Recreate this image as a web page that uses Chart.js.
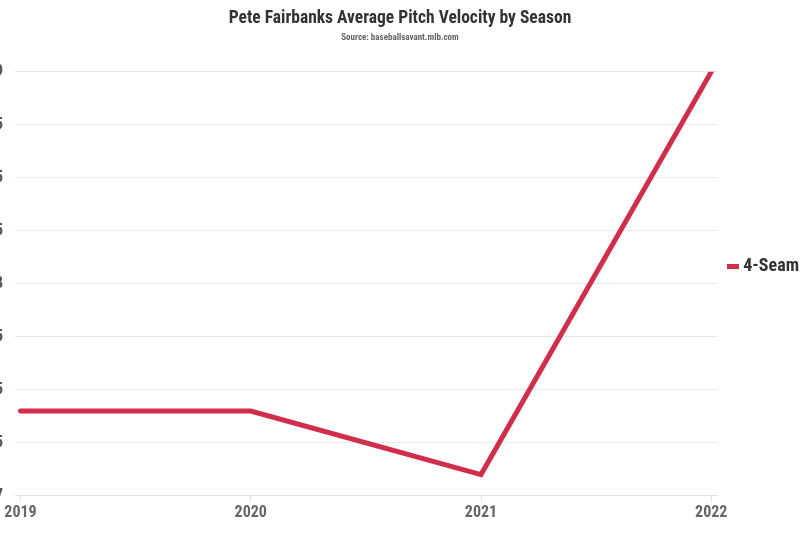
<!DOCTYPE html>
<html>
<head>
<meta charset="utf-8">
<script src="https://cdn.jsdelivr.net/npm/chart.js@4/dist/chart.umd.min.js"></script>
<style>
  html, body { margin: 0; padding: 0; background: #fff; overflow: hidden; }
  #wrap { position: absolute; left: -9px; top: 0; width: 818px; height: 533px; }
</style>
</head>
<body>
<div id="wrap"><canvas id="myChart"></canvas></div>
<script>
const seasons = [2019, 2020, 2021, 2022];
const fourSeam = [97.4, 97.4, 97.1, 99.0];
const yTicks = [97, 97.25, 97.5, 97.75, 98, 98.25, 98.5, 98.75, 99];

const font = "'Roboto Condensed', 'Liberation Sans Narrow', 'DejaVu Sans Condensed', Roboto, sans-serif";
const red = '#d12e4c';

// small flat marker for the legend
const marker = document.createElement('canvas');
marker.width = 12;
marker.height = 5;
const mctx = marker.getContext('2d');
mctx.fillStyle = red;
mctx.fillRect(0, 0, 12, 5);

const data = {
    datasets: [{
        label: '4-Seam',
        data: seasons.map((s, i) => ({ x: s, y: fourSeam[i] })),
        borderColor: red,
        backgroundColor: red,
        borderWidth: 5,
        borderCapStyle: 'round',
        pointRadius: 0,
        tension: 0,
    }]
};

const config = {
    type: 'line',
    data: data,
    options: {
        responsive: true,
        maintainAspectRatio: false,
        animation: false,
        layout: { padding: { top: 8, right: 0, bottom: 8 } },
        plugins: {
            legend: {
                position: 'right',
                labels: {
                    usePointStyle: true,
                    pointStyle: marker,
                    pointStyleWidth: 2,
                    boxHeight: 5,
                    color: '#333',
                    font: { family: font, size: 18, weight: 'bold' },
                    padding: 15
                }
            },
            title: {
                display: true,
                text: 'Pete Fairbanks Average Pitch Velocity by Season',
                color: '#333',
                font: { family: font, size: 17.5, weight: 'bold' },
                padding: { top: 0, bottom: 3 }
            },
            subtitle: {
                display: true,
                text: 'Source: baseballsavant.mlb.com',
                color: '#666',
                font: { family: font, size: 9, weight: 'bold' },
                padding: { bottom: 29 }
            },
            tooltip: { enabled: false }
        },
        scales: {
            x: {
                type: 'linear',
                min: 2018.976,
                max: 2022.026,
                afterBuildTicks: (axis) => { axis.ticks = seasons.map(v => ({ value: v })); },
                grid: { drawOnChartArea: false, drawTicks: true, tickLength: 6, color: '#dde3ea' },
                border: { color: '#dde3ea' },
                ticks: {
                    color: '#666',
                    font: { family: font, size: 16, weight: 'bold' },
                    padding: 2,
                    callback: (v) => String(v)
                }
            },
            y: {
                min: 97,
                max: 99,
                afterBuildTicks: (axis) => { axis.ticks = yTicks.map(v => ({ value: v })); },
                afterFit: (axis) => { axis.width = 24; },
                grid: { color: '#e9e9e9', drawTicks: false },
                border: { display: false },
                ticks: {
                    color: '#555',
                    font: { family: font, size: 16, weight: 'bold' },
                    padding: 12,
                    callback: (v) => String(v)
                }
            }
        }
    }
};

new Chart(document.getElementById('myChart'), config);
</script>
</body>
</html>
